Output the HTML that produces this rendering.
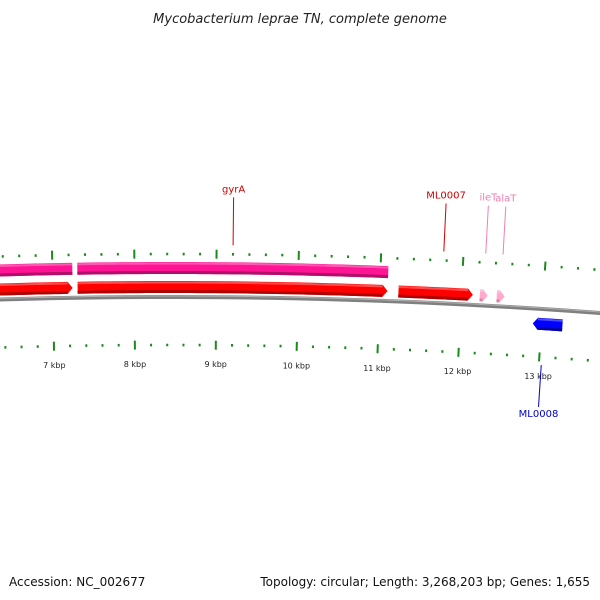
<!DOCTYPE html>
<html><head><meta charset="utf-8"><style>
body{margin:0;background:#fff}
svg{display:block;font-family:"DejaVu Sans","Liberation Sans",sans-serif}
</style></head><body>
<svg id="c" width="600" height="600">
<text x="300" y="23" text-anchor="middle" font-size="13" font-style="italic" fill="#222">Mycobacterium leprae TN, complete genome</text>
<text x="9" y="586" font-size="12" fill="#111">Accession: NC_002677</text>
<text x="590" y="586" text-anchor="end" font-size="12" fill="#111">Topology: circular; Length: 3,268,203 bp; Genes: 1,655</text>
<g id="g"></g>
</svg>
<script>
// data
const tickKbp=[6,7,8,9,10,11,12,13,14];
const pinkGenes=[[5000,7243],[7304,11095]];
const redGenes=[[5000,7243],[7304,11095],[11229,12140]];
const trnaGenes=[[12225,12322],[12432,12529]];
const revGenes=[[12893,13258]];
const labels=[["gyrA",9200,"#d00000","up"],["ML0007",11760,"#d00000","up"],["ileT",12270,"#f080b0","up"],["alaT",12480,"#f080b0","up"],["ML0008",13030,"#0000cc","down"]];

const R=5778,CX=170,CY=297+R,BP0=8434,K=82.3/1000/(R+48);
const g=document.getElementById('g');
function pt(bp,r){const t=(bp-BP0)*K;return [CX+r*Math.sin(t),CY-r*Math.cos(t)];}
function el(tag,attrs,name){const e=document.createElementNS('http://www.w3.org/2000/svg',tag);for(const k in attrs)e.setAttribute(k,attrs[k]);


g.appendChild(e);return e;}
function arcPts(b1,b2,r){const a=[];const n=40;for(let i=0;i<=n;i++)a.push(pt(b1+(b2-b1)*i/n,r));return a;}
function feature(b1,b2,rc,h,dir,fill,dark,name){
  const al=5/82.3*1000;let s=b1,e=b2;
  if(dir>0)e=Math.max(b1,b2-al); if(dir<0)s=Math.min(b2,b1+al);
  let p=arcPts(s,e,rc+h/2);
  if(dir>0)p.push(pt(b2,rc));
  let q=arcPts(s,e,rc-h/2).reverse();
  p=p.concat(q); if(dir<0)p.push(pt(b1,rc));
  el('polygon',{points:p.map(v=>v.join(',')).join(' '),fill:fill},name);
  el('polyline',{points:arcPts(s,e,rc-h/2+1.5).map(v=>v.join(',')).join(' '),fill:'none',stroke:dark,'stroke-width':3},name+'-shade');
  el('polyline',{points:arcPts(s,e,rc+h/2-1.5).map(v=>v.join(',')).join(' '),fill:'none',stroke:'rgba(255,255,255,0.3)','stroke-width':2},name+'-highlight');
}
// backbone
el('polyline',{points:arcPts(4000,16000,R).map(v=>v.join(',')).join(' '),fill:'none',stroke:'#808080','stroke-width':4},'backbone');
el('polyline',{points:arcPts(4000,16000,R+1).map(v=>v.join(',')).join(' '),fill:'none',stroke:'#b0b0b0','stroke-width':1},'backbone-highlight');
// ticks
for(let bp=5000;bp<=16000;bp+=200){
  const major=bp%1000===0;
  [[R+43,'top'],[R-48,'bottom']].forEach(([r,w])=>{
    const h=major?4.5:1.3;const a=pt(bp,r-h),b=pt(bp,r+h);
    el('line',{x1:a[0],y1:a[1],x2:b[0],y2:b[1],stroke:'#1a8a1a','stroke-width':2},'tick-'+w+'-'+bp);
  });
}
tickKbp.forEach(k=>{const p=pt(k*1000,R-67);const t=el('text',{x:p[0],y:p[1]+3,'text-anchor':'middle','font-size':8,fill:'#222'},'tick-label-'+k);t.textContent=k+' kbp';});
pinkGenes.forEach((d,i)=>feature(d[0],d[1],R+29,12,0,'#ff1493','#b0106a','pink-gene-'+i));
redGenes.forEach((d,i)=>feature(d[0],d[1],R+10,12,1,'#ff0000','#b00000','red-gene-'+i));
trnaGenes.forEach((d,i)=>feature(d[0],d[1],R+10,12,1,'#ffaacc','#e080a8','trna-gene-'+i));
revGenes.forEach((d,i)=>feature(d[0],d[1],R-15,12,-1,'#0000ff','#0000a0','reverse-gene-'+i));
labels.forEach(([n,bp,c,dir])=>{
  if(dir==='up'){const a=pt(bp,R+52),b=pt(bp,R+100);
    el('line',{x1:a[0],y1:a[1],x2:b[0],y2:b[1],stroke:c,'stroke-width':1},'label-line-'+n);
    const t=el('text',{x:b[0],y:b[1]-5,'text-anchor':'middle','font-size':10,fill:c},'gene-label-'+n);t.textContent=n;}
  else{const a=pt(bp,R-56),b=pt(bp,R-98);
    el('line',{x1:a[0],y1:a[1],x2:b[0],y2:b[1],stroke:c,'stroke-width':1},'label-line-'+n);
    const t=el('text',{x:b[0],y:b[1]+10,'text-anchor':'middle','font-size':10,fill:c},'gene-label-'+n);t.textContent=n;}
});
</script>
</body></html>
